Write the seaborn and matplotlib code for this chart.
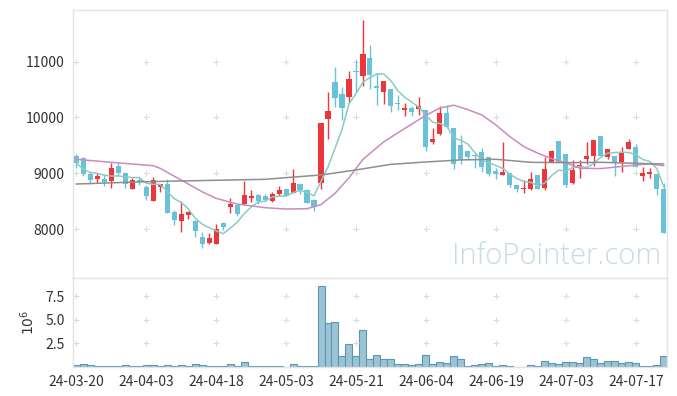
import numpy as np
import pandas as pd
import matplotlib
matplotlib.use("Agg")
import matplotlib.pyplot as plt
import seaborn as sns

# trading days (KRX holidays removed)
holidays = ["2024-04-10", "2024-05-01", "2024-05-06", "2024-05-15", "2024-06-06"]
dates = pd.bdate_range("2024-03-20", "2024-07-23").drop(pd.to_datetime(holidays))

opens = [9310, 9270, 8985, 8905, 8905, 8870, 9130, 9005, 8725, 8885,
         8760, 8510, 8760, 8810, 8310, 8145, 8255, 8145, 7860, 7750,
         7735, 8110, 8395, 8430, 8450, 8560, 8610, 8595, 8510, 8630,
         8720, 8655, 8810, 8700, 8520, 8830, 9975, 10635, 10420, 10360,
         10820, 10750, 11060, 10565, 10465, 10510, 10265, 10140, 10175, 10150,
         10135, 9565, 9710, 10080, 9805, 9510, 9400, 9315, 9375, 9290,
         9040, 8970, 9000, 8790, 8720, 8715, 8970, 8730, 9210, 9580,
         9345, 8820, 9110, 9255, 9315, 9670, 9300, 9315, 9195, 9430,
         9465, 8960, 8990, 8990, 8715]
highs = [9340, 9300, 9030, 9010, 8990, 9180, 9180, 9030, 8920, 8930,
         8790, 8940, 8810, 8890, 8345, 8510, 8330, 8165, 7945, 7925,
         8090, 8120, 8550, 8455, 8870, 8700, 8625, 8625, 8665, 8770,
         8720, 9070, 8825, 8720, 8540, 9895, 10450, 10910, 10550, 10835,
         11030, 11745, 11300, 10800, 10655, 10510, 10405, 10260, 10215, 10360,
         10135, 9805, 10215, 10220, 9805, 9680, 9400, 9345, 9460, 9300,
         9090, 9565, 9000, 8790, 8880, 9030, 8970, 9300, 9420, 9580,
         9345, 9240, 9240, 9565, 9600, 9670, 9435, 9315, 9480, 9610,
         9520, 9120, 9090, 8990, 8835]
lows = [9100, 8960, 8800, 8830, 8780, 8745, 8950, 8745, 8725, 8785,
        8520, 8510, 8670, 8280, 8075, 7955, 8180, 7855, 7655, 7730,
        7735, 7985, 8285, 8240, 8430, 8480, 8445, 8510, 8485, 8600,
        8600, 8655, 8630, 8460, 8330, 8710, 9610, 10195, 9955, 10265,
        10465, 10560, 10505, 10220, 10235, 10095, 10130, 10020, 10020, 10045,
        9405, 9530, 9695, 9810, 9080, 9160, 9250, 9090, 9030, 8960,
        8895, 8970, 8750, 8670, 8655, 8700, 8715, 8700, 9195, 9195,
        8750, 8810, 8910, 9160, 9130, 9315, 9250, 8960, 9020, 9430,
        9120, 8865, 8910, 8610, 7925]
closes = [9180, 8980, 8885, 8950, 8840, 9095, 9000, 8800, 8885, 8845,
          8600, 8880, 8800, 8285, 8165, 8270, 8315, 7965, 7735, 7840,
          8005, 8040, 8450, 8265, 8610, 8595, 8510, 8520, 8635, 8700,
          8600, 8825, 8695, 8475, 8390, 9895, 10120, 10355, 10175, 10685,
          10810, 11140, 10760, 10520, 10655, 10210, 10240, 10175, 10090, 10205,
          9475, 9615, 10075, 9835, 9175, 9245, 9290, 9305, 9120, 8990,
          8990, 9030, 8790, 8720, 8745, 8895, 8715, 9070, 9400, 9210,
          8790, 9060, 9150, 9315, 9595, 9315, 9435, 9195, 9360, 9555,
          9120, 9000, 9030, 8715, 7925]
# volume in millions of shares
volumes = [0.18, 0.36, 0.18, 0.05, 0.14, 0.14, 0.14, 0.25, 0.05, 0.05,
           0.25, 0.25, 0.05, 0.25, 0.05, 0.25, 0.05, 0.36, 0.25, 0.05,
           0.05, 0.14, 0.36, 0.05, 0.57, 0.14, 0.05, 0.05, 0.05, 0.05,
           0.02, 0.36, 0.05, 0.05, 0.05, 8.64, 4.71, 4.75, 1.21, 2.43,
           1.21, 3.89, 0.89, 1.32, 0.79, 0.79, 0.36, 0.36, 0.25, 0.36,
           1.32, 0.36, 0.57, 0.46, 1.21, 0.79, 0.14, 0.25, 0.36, 0.46,
           0.14, 0.25, 0.14, 0.04, 0.04, 0.25, 0.14, 0.68, 0.46, 0.36,
           0.57, 0.57, 0.46, 1.10, 0.79, 0.46, 0.68, 0.68, 0.46, 0.57,
           0.46, 0.14, 0.14, 0.25, 1.21]

# 20/60 day averages (they depend on earlier history)
ma20_idx = [0, 5, 11, 12, 15, 18, 20, 23, 27, 30, 33, 35, 37, 39, 41, 44, 47,
            50, 52, 54, 56, 58, 60, 62, 64, 66, 68, 70, 72, 75, 77, 80, 82, 84]
ma20_val = [9251, 9197, 9137, 9090, 8880, 8670, 8552, 8450, 8384, 8360, 8365,
            8440, 8640, 8920, 9250, 9567, 9806, 10040, 10170, 10220, 10140,
            10045, 9866, 9657, 9477, 9360, 9260, 9190, 9090, 9085, 9110,
            9149, 9167, 9137]
ma60_idx = [0, 10, 20, 27, 30, 35, 40, 45, 50, 55, 60, 65, 70, 75, 80, 84]
ma60_val = [8808, 8850, 8875, 8892, 8922, 8970, 9060, 9161, 9203, 9240, 9251,
            9197, 9190, 9197, 9179, 9167]

UP, DOWN = "#ec363b", "#69c2d8"
FRAME = "#e4e4e4"

sns.set_theme(style="white")
plt.rcParams["font.family"] = ["Noto Sans CJK KR", "DejaVu Sans"]

df = pd.DataFrame({"i": np.arange(len(dates)), "open": opens, "high": highs,
                   "low": lows, "close": closes, "vol": volumes})
df["ma5"] = df["close"].rolling(5, min_periods=1).mean()

fig = plt.figure(figsize=(6.77, 3.96), dpi=100)
ax = fig.add_axes([0.1078, 0.298, 0.8774, 0.6767])
axv = fig.add_axes([0.1078, 0.0735, 0.8774, 0.2245], sharex=ax)

# candles
for _, r in df.iterrows():
    col = UP if r["close"] >= r["open"] else DOWN
    ax.vlines(r["i"], r["low"], r["high"], color=col, lw=1, zorder=2)
    lo = min(r["open"], r["close"])
    h = max(abs(r["close"] - r["open"]), 25)
    ax.bar(r["i"], h, bottom=lo, width=0.72, color=col, lw=0, zorder=3)

sns.lineplot(x=df["i"], y=df["ma5"], ax=ax, color="#8accc1", lw=1.1, zorder=4)
sns.lineplot(x=ma20_idx, y=ma20_val, ax=ax, color="#c98bc1", lw=1.1, zorder=4)
sns.lineplot(x=ma60_idx, y=ma60_val, ax=ax, color="#8e8e8e", lw=1.1, zorder=4)

sns.barplot(data=df, x="i", y="vol", ax=axv, native_scale=True, width=1.0,
            color="#9cc3d3", saturation=1, edgecolor="#5b97b2", linewidth=0.8)

xt = list(range(0, len(dates), 10))
ax.set_xlim(-0.45, len(dates) - 0.55)
ax.set_ylim(7124, 11926)
axv.set_ylim(0, 9.47)
ax.set_yticks([8000, 9000, 10000, 11000])
axv.set_yticks([2.5, 5.0, 7.5])
axv.set_yticklabels(["2.5", "5.0", "7.5"])
axv.set_xticks(xt)
axv.set_xticklabels([dates[i].strftime("%y-%m-%d") for i in xt])
ax.tick_params(labelbottom=False)

for a in (ax, axv):
    a.set_xlabel("")
    a.set_ylabel("")
    a.grid(False)
    a.tick_params(length=0, labelsize=10, labelcolor="#333333", pad=6)
    for s in a.spines.values():
        s.set_color(FRAME)
        s.set_linewidth(1)
    # small "+" marks at grid crossings
    gx, gy = np.meshgrid(xt, a.get_yticks())
    a.scatter(gx.ravel(), gy.ravel(), marker="+", s=18, color="#dcdcdc",
              lw=0.8, zorder=1)

axv.set_ylabel(r"$10^6$", fontsize=10, color="#333333", labelpad=6)

ax.text(0.99, 0.025, "InfoPointer.com", transform=ax.transAxes, ha="right",
        va="bottom", fontsize=21, color="#c8dae4", weight="light",
        family=["Open Sans", "DejaVu Sans"], zorder=0)

fig.savefig("out.png", dpi=100)
